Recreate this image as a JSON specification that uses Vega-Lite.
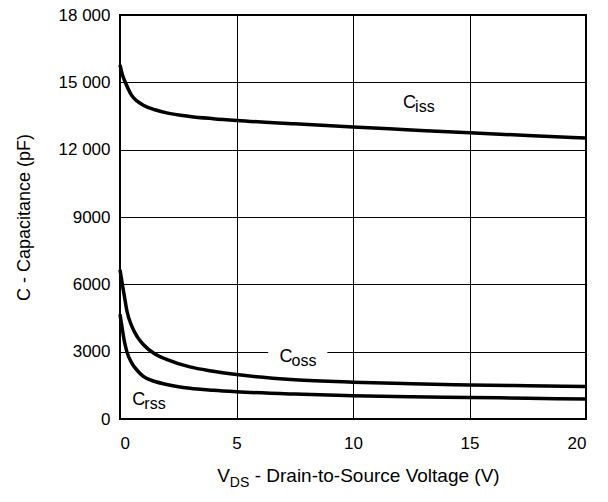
{
  "$schema": "https://vega.github.io/schema/vega-lite/v6.json",
  "width": 466,
  "height": 404,
  "autosize": {"type": "none"},
  "padding": {"left": 120, "top": 15, "right": 22, "bottom": 83},
  "background": "white",
  "config": {
    "font": "Liberation Sans",
    "view": {"stroke": "black", "strokeWidth": 2},
    "axis": {
      "grid": true,
      "gridColor": "black",
      "gridWidth": 1,
      "gridOpacity": 1,
      "domain": false,
      "ticks": false,
      "tickSize": 0,
      "labelFont": "Liberation Sans",
      "labelFontSize": 17,
      "labelColor": "black",
      "titleFont": "Liberation Sans",
      "titleColor": "black",
      "titleFontWeight": "normal"
    }
  },
  "datasets": {
    "curves": [
      {"V": 0, "C": 15780, "series": "Ciss"},
      {"V": 0.1, "C": 15350, "series": "Ciss"},
      {"V": 0.25, "C": 14950, "series": "Ciss"},
      {"V": 0.5, "C": 14420, "series": "Ciss"},
      {"V": 0.75, "C": 14150, "series": "Ciss"},
      {"V": 1, "C": 13980, "series": "Ciss"},
      {"V": 1.5, "C": 13780, "series": "Ciss"},
      {"V": 2, "C": 13640, "series": "Ciss"},
      {"V": 3, "C": 13480, "series": "Ciss"},
      {"V": 4, "C": 13380, "series": "Ciss"},
      {"V": 5, "C": 13300, "series": "Ciss"},
      {"V": 7.5, "C": 13150, "series": "Ciss"},
      {"V": 10, "C": 13010, "series": "Ciss"},
      {"V": 12.5, "C": 12880, "series": "Ciss"},
      {"V": 15, "C": 12750, "series": "Ciss"},
      {"V": 17.5, "C": 12630, "series": "Ciss"},
      {"V": 20, "C": 12520, "series": "Ciss"},
      {"V": 0, "C": 6650, "series": "Coss"},
      {"V": 0.1, "C": 6000, "series": "Coss"},
      {"V": 0.2, "C": 5400, "series": "Coss"},
      {"V": 0.3, "C": 4800, "series": "Coss"},
      {"V": 0.5, "C": 4150, "series": "Coss"},
      {"V": 0.75, "C": 3650, "series": "Coss"},
      {"V": 1, "C": 3320, "series": "Coss"},
      {"V": 1.5, "C": 2900, "series": "Coss"},
      {"V": 2, "C": 2660, "series": "Coss"},
      {"V": 3, "C": 2320, "series": "Coss"},
      {"V": 4, "C": 2130, "series": "Coss"},
      {"V": 5, "C": 1980, "series": "Coss"},
      {"V": 7.5, "C": 1750, "series": "Coss"},
      {"V": 10, "C": 1640, "series": "Coss"},
      {"V": 12.5, "C": 1570, "series": "Coss"},
      {"V": 15, "C": 1520, "series": "Coss"},
      {"V": 17.5, "C": 1480, "series": "Coss"},
      {"V": 20, "C": 1450, "series": "Coss"},
      {"V": 0, "C": 4670, "series": "Crss"},
      {"V": 0.1, "C": 4000, "series": "Crss"},
      {"V": 0.2, "C": 3400, "series": "Crss"},
      {"V": 0.3, "C": 2980, "series": "Crss"},
      {"V": 0.5, "C": 2500, "series": "Crss"},
      {"V": 0.75, "C": 2150, "series": "Crss"},
      {"V": 1, "C": 1900, "series": "Crss"},
      {"V": 1.5, "C": 1670, "series": "Crss"},
      {"V": 2, "C": 1540, "series": "Crss"},
      {"V": 3, "C": 1370, "series": "Crss"},
      {"V": 4, "C": 1280, "series": "Crss"},
      {"V": 5, "C": 1215, "series": "Crss"},
      {"V": 7.5, "C": 1110, "series": "Crss"},
      {"V": 10, "C": 1040, "series": "Crss"},
      {"V": 12.5, "C": 995, "series": "Crss"},
      {"V": 15, "C": 960, "series": "Crss"},
      {"V": 17.5, "C": 925, "series": "Crss"},
      {"V": 20, "C": 890, "series": "Crss"}
    ],
    "labels": [
      {"V": 12.15, "C": 13850, "main": "C", "sub": "iss"},
      {"V": 6.85, "C": 2553, "main": "C", "sub": "oss"},
      {"V": 0.53, "C": 624, "main": "C", "sub": "rss"}
    ],
    "gap": [
      {"V1": 6.36, "V2": 8.9, "C1": 2700, "C2": 3300}
    ],
    "xtitle": [
      {"V": 4.17, "C": 0, "main": "V", "sub": "DS", "rest": "- Drain-to-Source Voltage (V)"}
    ]
  },
  "layer": [
    {
      "data": {"name": "curves"},
      "mark": {"type": "line", "color": "black", "strokeWidth": 3.5, "interpolate": "monotone"},
      "encoding": {
        "x": {
          "field": "V",
          "type": "quantitative",
          "scale": {"domain": [0, 20], "nice": false},
          "axis": {"values": [0, 5, 10, 15, 20], "labelPadding": 16, "title": null}
        },
        "y": {
          "field": "C",
          "type": "quantitative",
          "scale": {"domain": [0, 18000], "nice": false},
          "axis": {
            "values": [0, 3000, 6000, 9000, 12000, 15000, 18000],
            "labelExpr": "datum.value >= 10000 ? format(datum.value / 1000, 'd') + ' 000' : format(datum.value, 'd')",
            "labelPadding": 10,
            "title": "C - Capacitance (pF)",
            "titleFontSize": 18,
            "titleX": -91,
            "titleBaseline": "alphabetic"
          }
        },
        "detail": {"field": "series"}
      }
    },
    {
      "data": {"name": "gap"},
      "mark": {"type": "rect", "color": "white"},
      "encoding": {
        "x": {"field": "V1", "type": "quantitative"},
        "x2": {"field": "V2"},
        "y": {"field": "C1", "type": "quantitative"},
        "y2": {"field": "C2"}
      }
    },
    {
      "data": {"name": "labels"},
      "mark": {"type": "text", "align": "left", "baseline": "alphabetic", "fontSize": 18, "color": "black"},
      "encoding": {
        "x": {"field": "V", "type": "quantitative"},
        "y": {"field": "C", "type": "quantitative"},
        "text": {"field": "main"}
      }
    },
    {
      "data": {"name": "labels"},
      "mark": {"type": "text", "align": "left", "baseline": "alphabetic", "fontSize": 16, "dx": 12, "dy": 4, "color": "black"},
      "encoding": {
        "x": {"field": "V", "type": "quantitative"},
        "y": {"field": "C", "type": "quantitative"},
        "text": {"field": "sub"}
      }
    },
    {
      "data": {"name": "xtitle"},
      "mark": {"type": "text", "align": "left", "baseline": "alphabetic", "fontSize": 19, "dy": 63, "color": "black"},
      "encoding": {
        "x": {"field": "V", "type": "quantitative"},
        "y": {"field": "C", "type": "quantitative"},
        "text": {"field": "main"}
      }
    },
    {
      "data": {"name": "xtitle"},
      "mark": {"type": "text", "align": "left", "baseline": "alphabetic", "fontSize": 14, "dx": 12.7, "dy": 67.5, "color": "black"},
      "encoding": {
        "x": {"field": "V", "type": "quantitative"},
        "y": {"field": "C", "type": "quantitative"},
        "text": {"field": "sub"}
      }
    },
    {
      "data": {"name": "xtitle"},
      "mark": {"type": "text", "align": "left", "baseline": "alphabetic", "fontSize": 19, "dx": 37.5, "dy": 63, "color": "black"},
      "encoding": {
        "x": {"field": "V", "type": "quantitative"},
        "y": {"field": "C", "type": "quantitative"},
        "text": {"field": "rest"}
      }
    }
  ]
}
